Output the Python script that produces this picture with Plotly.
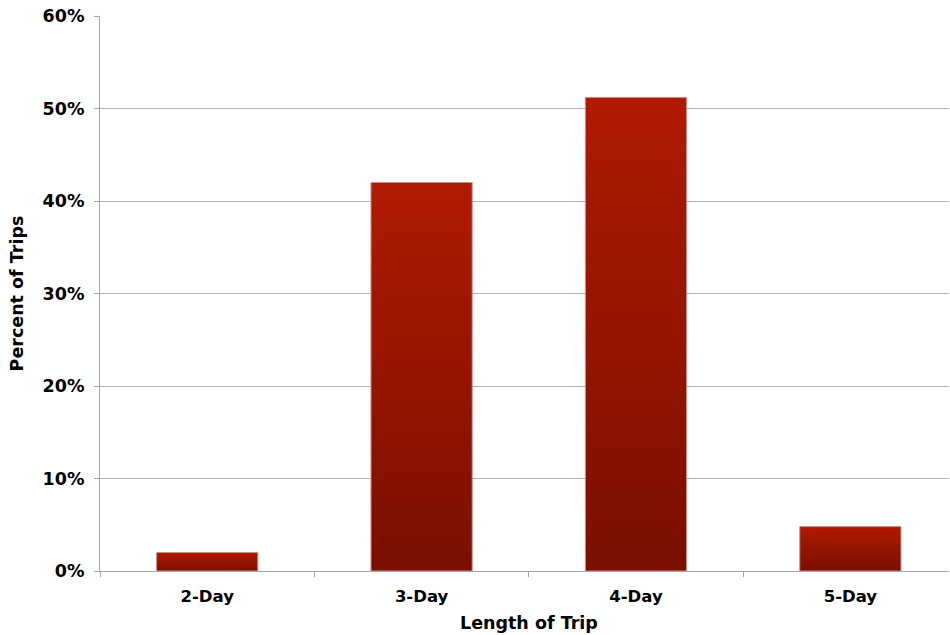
import plotly.graph_objects as go

# Share of trips by trip length
categories = ["2-Day", "3-Day", "4-Day", "5-Day"]
percent_of_trips = [2.0, 42.0, 51.2, 4.8]
y_ticks = [0, 10, 20, 30, 40, 50, 60]
y_tick_labels = ["0%", "10%", "20%", "30%", "40%", "50%", "60%"]

BAR_WIDTH = 0.472
TOP_RED = "#b01a00"
BOTTOM_RED = "#7a0f00"
FONT = "DejaVu Sans"

fig = go.Figure()

# Each bar is a filled rectangle with a vertical colour gradient (dark at base, bright at top)
for i, (cat, val) in enumerate(zip(categories, percent_of_trips)):
    x0, x1 = i - BAR_WIDTH / 2, i + BAR_WIDTH / 2
    fig.add_trace(go.Scatter(
        x=[x0, x1, x1, x0, x0],
        y=[0, 0, val, val, 0],
        mode="lines",
        fill="toself",
        line=dict(color="#c98f86", width=1),
        fillgradient=dict(
            type="vertical",
            start=0,
            stop=val,
            colorscale=[[0, BOTTOM_RED], [1, TOP_RED]],
        ),
        name=cat,
        hoveron="fills",
        hoverinfo="text",
        text=f"{cat}: {val:.1f}%",
        showlegend=False,
    ))

# x-axis title centred on the full category span
fig.add_annotation(
    text="Length of Trip",
    x=(len(categories) - 1) / 2, xref="x",
    y=0, yref="paper", yanchor="top",
    yshift=-40,
    showarrow=False,
    font=dict(size=17.5, family=FONT, weight="bold", color="black"),
)

fig.update_layout(
    width=950,
    height=635,
    margin=dict(l=100, r=1, t=16, b=64),
    plot_bgcolor="white",
    paper_bgcolor="white",
    font=dict(family=FONT, color="black"),
    xaxis=dict(
        # the last category runs slightly past the right edge of the plot
        range=[-0.5, len(categories) - 0.54],
        tickvals=list(range(len(categories))),
        ticktext=categories,
        ticks="",
        ticklabelstandoff=10,
        tickfont=dict(size=16.5, family=FONT, weight="bold"),
        showgrid=False,
        zeroline=False,
        showline=True,
        linecolor="#a6a6a6",
        linewidth=1,
        minor=dict(tick0=0.5, dtick=1, ticks="outside", ticklen=5,
                   tickcolor="#a6a6a6", showgrid=False),
        fixedrange=True,
    ),
    yaxis=dict(
        range=[0, 60],
        tickvals=y_ticks,
        ticktext=y_tick_labels,
        ticks="outside",
        ticklen=5,
        tickcolor="#a6a6a6",
        ticklabelstandoff=6,
        tickfont=dict(size=17.5, family=FONT, weight="bold"),
        showgrid=True,
        gridcolor="#b3b3b3",
        gridwidth=1,
        zeroline=False,
        showline=True,
        linecolor="#a6a6a6",
        linewidth=1,
        title=dict(text="Percent of Trips", font=dict(size=17.5, family=FONT, weight="bold"),
                   standoff=14),
        fixedrange=True,
    ),
)

fig.write_html("out.html")
